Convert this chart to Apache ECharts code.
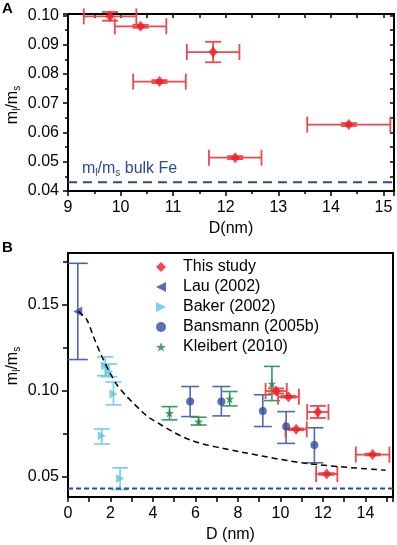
<!DOCTYPE html>
<html>
<head>
<meta charset="UTF-8">
<title>ml/ms vs D</title>
<script src="https://cdn.jsdelivr.net/npm/echarts@6/dist/echarts.min.js"></script>
<style>
html,body{margin:0;padding:0;background:#fff;}
#chart{width:397px;height:545px;}
</style>
</head>
<body>
<div id="chart"></div>
<script type="text/javascript">
// this study (panel A and B)
var studyD = [9.8, 10.38, 11.76, 10.74, 12.18, 14.34];
var studyV = [0.0997, 0.0963, 0.0875, 0.0774, 0.0514, 0.0627];
var studyDErr = [0.5, 0.49, 0.5, 0.5, 0.5, 0.79];
var studyVErr = [0.0015, 0.0005, 0.0035, 0.0005, 0.0005, 0.0005];
// literature values (panel B)
var lauD = [0.46];
var lauV = [0.146];
var lauLo = [0.118];
var lauHi = [0.174];
var bakerD = [1.75, 1.93, 2.14, 1.59, 2.45];
var bakerV = [0.1144, 0.111, 0.098, 0.0737, 0.0488];
var bakerLo = [0.1086, 0.108, 0.0916, 0.0688, 0.0423];
var bakerHi = [0.1195, 0.1154, 0.1049, 0.0776, 0.055];
var bansD = [5.75, 7.22, 9.17, 10.27, 11.6];
var bansV = [0.0936, 0.0936, 0.0881, 0.079, 0.0682];
var bansLo = [0.0848, 0.0852, 0.079, 0.0692, 0.0579];
var bansHi = [0.1023, 0.1023, 0.0975, 0.0877, 0.0783];
var kleiD = [4.78, 6.15, 7.61, 9.6];
var kleiV = [0.0868, 0.0819, 0.0951, 0.1039];
var kleiLo = [0.0829, 0.0799, 0.091, 0.0941];
var kleiHi = [0.0906, 0.0844, 0.0994, 0.114];
// dashed guide curve
var fitD = [0.49, 0.88, 1.19, 1.59, 1.98, 2.30, 2.77, 3.40, 3.87, 5.75, 8.11, 11.26, 14.95];
var fitV = [0.146, 0.1413, 0.1316, 0.1199, 0.1102, 0.1033, 0.0965, 0.0887, 0.0838, 0.0712, 0.0643, 0.0575, 0.0536];
var bulkFe = 0.043;
var yTicksB = [0.05, 0.10, 0.15];
var yMinorB = [0.075, 0.125, 0.175];

var FONT = 'Liberation Sans';
var RED = '#ee1d25', REDBAR = '#f0474d';
var LAU = '#2f4c9c', BAKER = '#5cc6de', BANS = '#2e4ea5', KLEI = '#1f8a45';
var BULK = '#2c4a9a';
var STAR = 'path://M0,-10L2.35,-3.24L9.51,-3.09L3.8,1.24L5.88,8.09L0,4L-5.88,8.09L-3.8,1.24L-9.51,-3.09L-2.35,-3.24Z';
var TRI_L = 'path://M10,0L0,5L10,10Z';
var TRI_R = 'path://M0,0L10,5L0,10Z';

function zip(a, b) {
	var out = [];
	for (var i = 0; i < a.length; i++) out.push([a[i], b[i]]);
	return out;
}
function barData(d, v, lo, hi, xe) {
	var out = [];
	for (var i = 0; i < d.length; i++) out.push([d[i], v[i], lo[i], hi[i], xe ? xe[i] : 0]);
	return out;
}
function studyBars() {
	var lo = [], hi = [];
	for (var i = 0; i < studyV.length; i++) {
		lo.push(studyV[i] - studyVErr[i]);
		hi.push(studyV[i] + studyVErr[i]);
	}
	return barData(studyD, studyV, lo, hi, studyDErr);
}

// error bars drawn with the axes' own coords
function barRender(cap, color, width) {
	return function (params, api) {
		var x = api.value(0), y = api.value(1);
		var lo = api.coord([x, api.value(2)]);
		var hi = api.coord([x, api.value(3)]);
		var xe = api.value(4);
		var st = { stroke: color, lineWidth: width, fill: null };
		var kids = [
			{ type: 'line', shape: { x1: lo[0], y1: lo[1], x2: hi[0], y2: hi[1] }, style: st },
			{ type: 'line', shape: { x1: lo[0] - cap, y1: lo[1], x2: lo[0] + cap, y2: lo[1] }, style: st },
			{ type: 'line', shape: { x1: hi[0] - cap, y1: hi[1], x2: hi[0] + cap, y2: hi[1] }, style: st }
		];
		if (xe) {
			var l = api.coord([x - xe, y]);
			var r = api.coord([x + xe, y]);
			kids.push({ type: 'line', shape: { x1: l[0], y1: l[1], x2: r[0], y2: r[1] }, style: st });
			kids.push({ type: 'line', shape: { x1: l[0], y1: l[1] - cap, x2: l[0], y2: l[1] + cap }, style: st });
			kids.push({ type: 'line', shape: { x1: r[0], y1: r[1] - cap, x2: r[0], y2: r[1] + cap }, style: st });
		}
		return { type: 'group', children: kids };
	};
}
function bars(name, data, cap, color, width, xi, yi) {
	return {
		name: name, type: 'custom', coordinateSystem: 'cartesian2d',
		xAxisIndex: xi, yAxisIndex: yi, data: data, z: 2, silent: true,
		renderItem: barRender(cap, color, width)
	};
}

var black = { color: '#000', width: 2 };
var lbl = { fontFamily: FONT, fontSize: 16, color: '#000' };
function ylabel(cy) {
	return {
		type: 'text', x: 13, y: cy, rotation: Math.PI / 2,
		style: {
			text: '{m|m}{s|l}{m|/m}{s|s}', align: 'center', verticalAlign: 'middle',
			rich: {
				m: { fontFamily: FONT, fontSize: 16, lineHeight: 18, fill: '#000' },
				s: { fontFamily: FONT, fontSize: 10, lineHeight: 18, padding: [9, 0, 0, 0], fill: '#000' }
			}
		}
	};
}

var mychart = echarts.init(document.getElementById('chart'));
var option = {
	backgroundColor: '#fff',
	animation: false,
	textStyle: { fontFamily: FONT },
	grid: [
		{ left: 68, top: 14, width: 327, height: 177 },
		{ left: 68, top: 253, width: 325, height: 244 }
	],
	legend: {
		orient: 'vertical', left: 151, top: 254, itemGap: 4,
		itemWidth: 10, itemHeight: 10,
		textStyle: { fontFamily: FONT, fontSize: 16, color: '#000', padding: [0, 0, 0, 12] },
		data: [
			{ name: 'This study', icon: 'diamond' },
			{ name: 'Lau (2002)', icon: TRI_L },
			{ name: 'Baker (2002)', icon: TRI_R },
			{ name: 'Bansmann (2005b)', icon: 'circle' },
			{ name: 'Kleibert (2010)', icon: STAR }
		]
	},
	xAxis: [
		{
			gridIndex: 0, type: 'value', position: 'bottom', min: 9, max: 15.2, interval: 1,
			axisLine: { lineStyle: black }, axisTick: { length: 5, lineStyle: { width: 1.5 } },
			minorTick: { show: true, splitNumber: 2, length: 3, lineStyle: { color: '#000', width: 1.5 } },
			splitLine: { show: false },
			axisLabel: Object.assign({ margin: 9, formatter: function (v) { return Math.abs(v - Math.round(v)) < 1e-6 ? String(Math.round(v)) : ''; } }, lbl),
			name: 'D(nm)', nameLocation: 'middle', nameGap: 30, nameTextStyle: lbl
		},
		{
			gridIndex: 0, type: 'value', position: 'top', min: 9, max: 15.2, interval: 0.5,
			axisLine: { lineStyle: black }, axisTick: { inside: true, length: 4, lineStyle: { width: 1.5 } },
			axisLabel: { show: false }, splitLine: { show: false }
		},
		{
			gridIndex: 1, type: 'value', position: 'bottom', min: 0, max: 15.3, interval: 2,
			axisLine: { lineStyle: black }, axisTick: { length: 5, lineStyle: { width: 1.5 } },
			minorTick: { show: true, splitNumber: 2, length: 5, lineStyle: { color: '#000', width: 1.5 } },
			splitLine: { show: false },
			axisLabel: Object.assign({ margin: 9, formatter: function (v) { return Math.abs(v - Math.round(v)) < 1e-6 ? String(Math.round(v)) : ''; } }, lbl),
			name: 'D (nm)', nameLocation: 'middle', nameGap: 30, nameTextStyle: lbl
		},
		{
			gridIndex: 1, type: 'value', position: 'top', min: 0, max: 15.3,
			axisLine: { lineStyle: black }, axisTick: { show: false },
			axisLabel: { show: false }, splitLine: { show: false }
		}
	],
	yAxis: [
		{
			gridIndex: 0, type: 'value', position: 'left', min: 0.04, max: 0.1005, interval: 0.01,
			axisLine: { lineStyle: black }, axisTick: { length: 5, lineStyle: { width: 1.5 } },
			minorTick: { show: true, splitNumber: 2, length: 3, lineStyle: { color: '#000', width: 1.5 } },
			splitLine: { show: false },
			axisLabel: Object.assign({ margin: 9, formatter: function (v) { return Math.abs(v * 100 - Math.round(v * 100)) < 1e-6 ? v.toFixed(2) : ''; } }, lbl)
		},
		{
			gridIndex: 0, type: 'value', position: 'right', min: 0.04, max: 0.1005, interval: 0.005,
			axisLine: { lineStyle: black }, axisTick: { inside: true, length: 4, lineStyle: { width: 1.5 } },
			axisLabel: { show: false }, splitLine: { show: false }
		},
		{
			gridIndex: 1, type: 'value', position: 'left', min: 0.038, max: 0.18,
			axisLine: { lineStyle: black },
			axisTick: { length: 6, customValues: yTicksB, lineStyle: { width: 1.5 } },
			splitLine: { show: false },
			axisLabel: Object.assign({ margin: 9, customValues: yTicksB, formatter: function (v) { return v.toFixed(2); } }, lbl)
		},
		{
			gridIndex: 1, type: 'value', position: 'left', min: 0.038, max: 0.18,
			axisLine: { show: false },
			axisTick: { length: 5, customValues: yMinorB, lineStyle: { color: '#000', width: 1.5 } },
			axisLabel: { show: false }, splitLine: { show: false }
		},
		{
			gridIndex: 1, type: 'value', position: 'right', min: 0.038, max: 0.18,
			axisLine: { lineStyle: black }, axisTick: { show: false },
			axisLabel: { show: false }, splitLine: { show: false }
		}
	],
	series: [
		// panel A
		{
			name: 'bulk A', type: 'line', xAxisIndex: 0, yAxisIndex: 0, symbol: 'none', silent: true,
			data: [[9, bulkFe], [15.2, bulkFe]],
			lineStyle: { color: BULK, width: 2, type: [9, 6] }
		},
		bars('study bars A', studyBars(), 8, REDBAR, 1.8, 0, 0),
		{
			name: 'study A', type: 'scatter', xAxisIndex: 0, yAxisIndex: 0, z: 3,
			symbol: 'diamond', symbolSize: [9, 11], itemStyle: { color: RED },
			data: zip(studyD, studyV)
		},
		// panel B
		{
			name: 'bulk B', type: 'line', xAxisIndex: 2, yAxisIndex: 2, symbol: 'none', silent: true,
			data: [[0, bulkFe], [15.3, bulkFe]],
			lineStyle: { color: BULK, width: 2, type: [5, 3] }
		},
		{
			name: 'fit', type: 'line', xAxisIndex: 2, yAxisIndex: 2, symbol: 'none', silent: true,
			smooth: 0.3, data: zip(fitD, fitV), z: 4,
			lineStyle: { color: '#000', width: 1.5, type: [6, 4] }
		},
		bars('lau bars', barData(lauD, lauV, lauLo, lauHi), 10, '#4a65b0', 1.6, 2, 2),
		bars('baker bars', barData(bakerD, bakerV, bakerLo, bakerHi), 8, '#74cfe3', 1.6, 2, 2),
		bars('bans bars', barData(bansD, bansV, bansLo, bansHi), 9, '#4e68b3', 1.6, 2, 2),
		bars('klei bars', barData(kleiD, kleiV, kleiLo, kleiHi), 8, '#3a9a5a', 1.6, 2, 2),
		bars('study bars B', studyBars(), 8, REDBAR, 1.8, 2, 2),
		{
			name: 'Lau (2002)', type: 'scatter', xAxisIndex: 2, yAxisIndex: 2, z: 3,
			symbol: TRI_L, symbolSize: [9, 10], itemStyle: { color: LAU },
			data: zip(lauD, lauV)
		},
		{
			name: 'Baker (2002)', type: 'scatter', xAxisIndex: 2, yAxisIndex: 2, z: 3,
			symbol: TRI_R, symbolSize: [8, 9], itemStyle: { color: BAKER },
			data: zip(bakerD, bakerV)
		},
		{
			name: 'Bansmann (2005b)', type: 'scatter', xAxisIndex: 2, yAxisIndex: 2, z: 3,
			symbol: 'circle', symbolSize: 8, itemStyle: { color: BANS },
			data: zip(bansD, bansV)
		},
		{
			name: 'Kleibert (2010)', type: 'scatter', xAxisIndex: 2, yAxisIndex: 2, z: 3,
			symbol: STAR, symbolSize: 9, itemStyle: { color: KLEI },
			data: zip(kleiD, kleiV)
		},
		{
			name: 'This study', type: 'scatter', xAxisIndex: 2, yAxisIndex: 2, z: 3,
			symbol: 'diamond', symbolSize: [9, 11], itemStyle: { color: RED },
			data: zip(studyD, studyV)
		}
	],
	graphic: [
		{ type: 'text', left: 2, top: 1, style: { text: 'A', fontFamily: FONT, fontSize: 15, fontWeight: 'bold', fill: '#000' } },
		{ type: 'text', left: 2, top: 240, style: { text: 'B', fontFamily: FONT, fontSize: 15, fontWeight: 'bold', fill: '#000' } },
		{
			type: 'text', x: 82, y: 160,
			style: {
				text: '{m|m}{s|l}{m|/m}{s|s}{m| bulk Fe}',
				rich: {
					m: { fontFamily: FONT, fontSize: 16, lineHeight: 18, fill: BULK },
					s: { fontFamily: FONT, fontSize: 10, lineHeight: 18, padding: [9, 0, 0, 0], fill: BULK }
				}
			}
		},
		ylabel(105),
		ylabel(366)
	]
};
mychart.setOption(option);
</script>
</body>
</html>
